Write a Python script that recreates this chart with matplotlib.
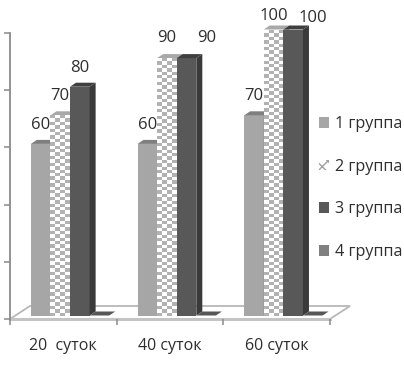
import numpy as np
import matplotlib
matplotlib.use("Agg")
import matplotlib.pyplot as plt
from matplotlib.colors import ListedColormap
from matplotlib.patches import Polygon, Patch

categories = ["20  суток", "40 суток", "60 суток"]
series_names = ["1 группа", "2 группа", "3 группа", "4 группа"]
group1 = [60, 60, 70]
group2 = [70, 90, 100]
group3 = [80, 90, 100]
group4 = [0, 0, 0]
y_ticks = [0, 20, 40, 60, 80, 100]

W, H = 404, 372
L, R, B, T = 10, 330, 319, 33      # plot box in pixels
plt.rcParams["font.family"] = ["Open Sans", "DejaVu Sans"]
TXT = "#2e2e2e"
fig = plt.figure(figsize=(W / 100, H / 100), dpi=100)
ax = fig.add_axes([L / W, 1 - B / H, (R - L) / W, (B - T) / H])
ax.set_xlim(0, 3)
ax.set_ylim(0, 100)
px_x = 3 / (R - L)
px_y = 100 / (B - T)

# depth of the 3-D look
dx, dy = 6 * px_x, 4 * px_y
shift_x, lift = 6.7 * px_x, 3.5 * px_y
bar_w = 19.6 * px_x

# floor
fx, fy = 20 * px_x, 13 * px_y
ax.add_patch(Polygon([(0, 0), (3, 0), (3 + fx, fy), (fx, fy)], closed=True, fc="white",
                     ec="#b8b8b8", lw=1.3, clip_on=False, zorder=1))
ax.plot([0, 3], [0, 0], color="#c4c4c4", lw=2.2, clip_on=False, zorder=1.5)

styles = [
    dict(front="#a6a6a6", top="#7f7f7f", side="#7f7f7f"),
    dict(front="#ffffff", top="#a8a8a8", side="#a8a8a8"),
    dict(front="#585858", top="#3f3f3f", side="#3a3a3a"),
    dict(front="#808080", top="#565656", side="#565656"),
]
all_values = [group1, group2, group3, group4]
xc = np.arange(3) + 0.5 + shift_x

for s, (vals, st) in enumerate(zip(all_values, styles)):
    xs = xc + (s - 1.5) * bar_w
    bars = ax.bar(xs, vals, width=bar_w, bottom=lift, color=st["front"], lw=0,
                  zorder=3 + s, clip_on=False)
    for rect, v in zip(bars, vals):
        x0, x1 = rect.get_x(), rect.get_x() + rect.get_width()
        y0, y1 = lift, lift + v
        ax.add_patch(Polygon([(x0, y1), (x1, y1), (x1 + dx, y1 + dy), (x0 + dx, y1 + dy)],
                             closed=True, fc=st["top"], lw=0, clip_on=False, zorder=3 + s))
        ax.add_patch(Polygon([(x1, y0), (x1 + dx, y0 + dy), (x1 + dx, y1 + dy), (x1, y1)],
                             closed=True, fc=st["side"], lw=0, clip_on=False, zorder=3 + s))
        if s == 1:
            nx = int(round(19.6 / 4.5))
            ny = int(round(v / px_y / 3.4))
            yy, xx = np.indices((ny, nx))
            tex = (xx + yy) % 2
            im = ax.imshow(tex, extent=(x0, x1, y0, y1), origin="lower", aspect="auto",
                           cmap=ListedColormap(["#b2b2b2", "#ffffff"]),
                           interpolation="bilinear", zorder=4.5)
            im.set_clip_on(False)
ax.set_xlim(0, 3)
ax.set_ylim(0, 100)

# value labels (pixel offsets from the default placement, per series/category)
label_shift = {(2, 1): (20, 0), (2, 2): (20, -9), (1, 2): (0, -7), (0, 0): (0, -1),
               (0, 1): (0, -1), (2, 0): (0, -1), (1, 0): (0, -1), (0, 2): (0, -1)}
for s, vals in enumerate(all_values[:3]):
    xs = xc + (s - 1.5) * bar_w
    for c, v in enumerate(vals):
        ox, oy = label_shift.get((s, c), (0, 0))
        ax.annotate(str(v), (xs[c], v + lift), xytext=(ox, 20 + oy),
                    textcoords="offset pixels", ha="center", va="center",
                    fontsize=12, color=TXT, annotation_clip=False, zorder=10)

# axes
for side in ("top", "right"):
    ax.spines[side].set_visible(False)
ax.spines["left"].set_color("#8a8a8a")
ax.spines["left"].set_linewidth(1.3)
ax.spines["bottom"].set_visible(False)
ax.set_yticks(y_ticks)
ax.set_yticklabels([])
ax.tick_params(axis="y", length=4.3, width=1.1, color="#8a8a8a")
ax.set_xticks([0, 1, 2, 3])
ax.set_xticklabels([])
ax.tick_params(axis="x", which="major", length=4, width=1.1, color="#8a8a8a")
ax.set_xticks([0.5, 1.5, 2.5], minor=True)
ax.set_xticklabels(categories, minor=True, fontsize=11.5, color=TXT)
ax.tick_params(axis="x", which="minor", length=0, pad=14)
ax.patch.set_visible(False)

# legend
handles = [
    Patch(fc="#a6a6a6", lw=0),
    Patch(fc="white", ec="#a0a0a0", hatch="xxx", lw=0),
    Patch(fc="#585858", lw=0),
    Patch(fc="#808080", lw=0),
]
leg = fig.legend(handles, series_names, loc="center left",
                 bbox_to_anchor=(319 / W, 1 - 188 / H), frameon=False,
                 fontsize=11.6, labelcolor=TXT, handlelength=0.65, handleheight=0.65,
                 handletextpad=0.33, labelspacing=1.66, borderpad=0, borderaxespad=0)

fig.savefig("out.png", dpi=100)
